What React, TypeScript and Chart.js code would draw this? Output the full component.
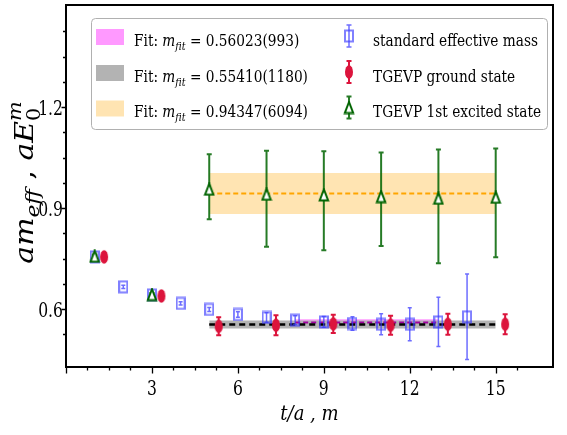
import React, { useEffect, useRef } from "react";
import { Chart, registerables } from "chart.js";
Chart.register(...registerables);

// ---------- data ----------
const X_MIN = 0;
const X_MAX = 17;
const Y_MIN = 0.428;
const Y_MAX = 1.503;

const stdT = [1, 2, 3, 4, 5, 6, 7, 8, 9, 10, 11, 12, 13, 14];
const stdM = [0.755, 0.666, 0.642, 0.617, 0.599, 0.584, 0.575, 0.567, 0.562, 0.557, 0.555, 0.555, 0.562, 0.577];
const stdErr = [0.005, 0.005, 0.005, 0.005, 0.006, 0.008, 0.014, 0.013, 0.016, 0.02, 0.031, 0.049, 0.073, 0.127];

const tgT = [1.33, 3.33, 5.33, 7.33, 9.33, 11.33, 13.33, 15.33];
const tgM = [0.755, 0.639, 0.549, 0.552, 0.556, 0.552, 0.555, 0.555];
const tgErr = [0.004, 0.004, 0.027, 0.03, 0.027, 0.028, 0.031, 0.03];

const exT = [1, 3, 5, 7, 9, 11, 13, 15];
const exM = [0.757, 0.643, 0.956, 0.941, 0.939, 0.934, 0.929, 0.932];
const exErrLo = [0.005, 0.005, 0.089, 0.156, 0.164, 0.147, 0.193, 0.178];
const exErrHi = [0.005, 0.005, 0.104, 0.129, 0.13, 0.131, 0.145, 0.145];

const fitMass = [0.56023, 0.5541, 0.94347];
const fitErr = [0.00993, 0.0118, 0.06094];
const fitFrom = [8, 5, 5];
const fitTo = [13, 15, 15];
const fitLabels = ["0.56023(993)", "0.55410(1180)", "0.94347(6094)"];
const seriesLabels = ["standard effective mass", "TGEVP ground state", "TGEVP 1st excited state"];

const xTickLabels = ["3", "6", "9", "12", "15"];
const yTickLabels = ["0.6", "0.9", "1.2"];

// ---------- styles ----------
const SERIF = "'DejaVu Serif'";
const bandColors = ["rgba(255,0,255,0.4)", "#b3b3b3", "rgba(255,165,0,0.3)"];
const lineColors = ["#a000a0", "#000000", "#ffa500"];
const BLUE_ERR = "rgba(60,60,255,0.75)";
const RED = "#dc143c";
const GREEN = "#006400";

function makeMarker(kind: string): HTMLCanvasElement {
  const c = document.createElement("canvas");
  const g = () => c.getContext("2d") as CanvasRenderingContext2D;
  if (kind === "square") {
    c.width = 10;
    c.height = 14;
    const x = g();
    x.strokeStyle = "rgba(60,60,255,0.65)";
    x.lineWidth = 2;
    x.strokeRect(1, 1.5, 8, 11);
  } else if (kind === "ellipse") {
    c.width = 10;
    c.height = 16;
    const x = g();
    x.fillStyle = RED;
    x.beginPath();
    x.ellipse(5, 8, 4, 6.8, 0, 0, Math.PI * 2);
    x.fill();
  } else {
    c.width = 12;
    c.height = 14;
    const x = g();
    x.fillStyle = "#ffffff";
    x.strokeStyle = GREEN;
    x.lineWidth = 2;
    x.beginPath();
    x.moveTo(6, 1.5);
    x.lineTo(1.8, 12.5);
    x.lineTo(10.2, 12.5);
    x.closePath();
    x.fill();
    x.stroke();
  }
  return c;
}

type Run = { t: string; f: string; dy?: number; stack?: { t: string; f: string; dy: number } };

function runsWidth(ctx: CanvasRenderingContext2D, runs: Run[]) {
  let w = 0;
  for (const r of runs) {
    ctx.font = r.f;
    let a = ctx.measureText(r.t).width;
    if (r.stack) {
      ctx.font = r.stack.f;
      a = Math.max(a, ctx.measureText(r.stack.t).width);
    }
    w += a;
  }
  return w;
}

function drawRuns(ctx: CanvasRenderingContext2D, runs: Run[], x: number, y: number, sx: number, align: string) {
  const w = runsWidth(ctx, runs) * sx;
  const cx = align === "center" ? x - w / 2 : align === "right" ? x - w : x;
  ctx.save();
  ctx.translate(cx, y);
  ctx.scale(sx, 1);
  ctx.fillStyle = "#000";
  ctx.textBaseline = "alphabetic";
  ctx.textAlign = "left";
  let px = 0;
  for (const r of runs) {
    ctx.font = r.f;
    ctx.fillText(r.t, px, r.dy || 0);
    let a = ctx.measureText(r.t).width;
    if (r.stack) {
      ctx.font = r.stack.f;
      ctx.fillText(r.stack.t, px, r.stack.dy);
      a = Math.max(a, ctx.measureText(r.stack.t).width);
    }
    px += a;
  }
  ctx.restore();
}

function errBar(ctx: CanvasRenderingContext2D, x: number, y1: number, y2: number, cap: number) {
  ctx.beginPath();
  ctx.moveTo(x, y1);
  ctx.lineTo(x, y2);
  ctx.moveTo(x - cap, y1);
  ctx.lineTo(x + cap, y1);
  ctx.moveTo(x - cap, y2);
  ctx.lineTo(x + cap, y2);
  ctx.stroke();
}

const errPlugin = {
  id: "errbars",
  beforeDatasetDraw(chart: any, args: any) {
    const ds = chart.data.datasets[args.index];
    if (!ds.errLo) return;
    const ctx = chart.ctx as CanvasRenderingContext2D;
    const xs = chart.scales.x;
    const ys = chart.scales.y;
    ctx.save();
    ctx.strokeStyle = ds.errColor;
    ctx.lineWidth = ds.errWidth;
    ds.data.forEach((p: any, i: number) => {
      const x = xs.getPixelForValue(p.x);
      const y1 = ys.getPixelForValue(p.y - ds.errLo[i]);
      const y2 = ys.getPixelForValue(p.y + ds.errHi[i]);
      errBar(ctx, x, y1, y2, ds.errCap);
    });
    ctx.restore();
  },
};

function makeDecorPlugin(markers: HTMLCanvasElement[]) {
  return {
    id: "decor",
    afterDraw(chart: any) {
      const ctx = chart.ctx as CanvasRenderingContext2D;
      const a = chart.chartArea;
      const xs = chart.scales.x;
      const ys = chart.scales.y;
      ctx.save();
      // frame
      ctx.strokeStyle = "#000";
      ctx.lineWidth = 2;
      ctx.strokeRect(a.left, a.top, a.right - a.left, a.bottom - a.top);
      // ticks
      ctx.lineWidth = 1.3;
      ctx.beginPath();
      for (const t of xs.ticks) {
        const v = t.value;
        if (Math.abs(v / 0.75 - Math.round(v / 0.75)) > 1e-6) continue;
        const major = Math.abs(v / 3 - Math.round(v / 3)) < 1e-6;
        const px = Math.round(xs.getPixelForValue(v)) + 0.5;
        ctx.moveTo(px, a.bottom);
        ctx.lineTo(px, a.bottom + (major ? 6.5 : 3.5));
      }
      for (const t of ys.ticks) {
        const v = t.value;
        if (Math.abs(v / 0.075 - Math.round(v / 0.075)) > 1e-6) continue;
        const major = Math.abs(v / 0.3 - Math.round(v / 0.3)) < 1e-6;
        const py = Math.round(ys.getPixelForValue(v)) + 0.5;
        ctx.moveTo(a.left, py);
        ctx.lineTo(a.left - (major ? 4.5 : 3), py);
      }
      ctx.stroke();
      // tick labels
      for (const lab of xTickLabels) {
        const px = xs.getPixelForValue(Number(lab));
        drawRuns(ctx, [{ t: lab, f: `20px ${SERIF}` }], px, 395, 0.78, "center");
      }
      for (const lab of yTickLabels) {
        const py = ys.getPixelForValue(Number(lab));
        drawRuns(ctx, [{ t: lab, f: `20px ${SERIF}` }], a.left - 3, py + 7.5, 0.78, "right");
      }
      // axis titles
      drawRuns(ctx, [{ t: "t/a , m", f: `italic 20px ${SERIF}` }], (a.left + a.right) / 2, 420, 0.9, "center");
      ctx.save();
      ctx.translate(33, 182.5);
      ctx.rotate(-Math.PI / 2);
      drawRuns(
        ctx,
        [
          { t: "am", f: `italic 26px ${SERIF}` },
          { t: "eff", f: `italic 19px ${SERIF}`, dy: 6 },
          { t: " , ", f: `26px ${SERIF}` },
          { t: "aE", f: `italic 26px ${SERIF}` },
          { t: "m", f: `italic 18px ${SERIF}`, dy: -12, stack: { t: "0", f: `18px ${SERIF}`, dy: 7 } },
        ],
        0,
        0,
        1.15,
        "center"
      );
      ctx.restore();

      // legend
      const bx = 91, by = 18, bw = 456, bh = 111;
      ctx.beginPath();
      ctx.roundRect(bx + 0.5, by + 0.5, bw, bh, 4);
      ctx.fillStyle = "rgba(255,255,255,0.85)";
      ctx.fill();
      ctx.strokeStyle = "#b0b0b0";
      ctx.lineWidth = 1;
      ctx.stroke();
      const bases = [45.5, 81.5, 117];
      const fsz = 16.5;
      for (let i = 0; i < 3; i++) {
        const b = bases[i];
        ctx.fillStyle = bandColors[i];
        ctx.fillRect(96, b - 16.5, 28, 16);
        drawRuns(
          ctx,
          [
            { t: "Fit: ", f: `${fsz}px ${SERIF}` },
            { t: "m", f: `italic ${fsz}px ${SERIF}` },
            { t: "fit", f: `italic ${fsz * 0.7}px ${SERIF}`, dy: 4 },
            { t: " = " + fitLabels[i], f: `${fsz}px ${SERIF}` },
          ],
          134,
          b,
          0.83,
          "left"
        );
        const cy = b - 9.5;
        ctx.lineWidth = i === 0 ? 1.5 : 2;
        ctx.strokeStyle = i === 0 ? BLUE_ERR : i === 1 ? RED : "rgba(0,100,0,0.85)";
        errBar(ctx, 349, cy - 11, cy + 11, 2.5);
        const m = markers[i];
        ctx.drawImage(m, 349 - m.width / 2, cy - m.height / 2);
        drawRuns(ctx, [{ t: seriesLabels[i], f: `${fsz}px ${SERIF}` }], 373, b, 0.83, "left");
      }
      ctx.restore();
    },
  };
}

export default function App() {
  const ref = useRef<HTMLCanvasElement | null>(null);
  useEffect(() => {
    document.body.style.margin = "0";
    const canvas = ref.current;
    if (!canvas) return;
    const markers = [makeMarker("square"), makeMarker("ellipse"), makeMarker("triangle")];

    const bandSets: any[] = [];
    const lineSets: any[] = [];
    for (let i = 0; i < 3; i++) {
      const lo = fitMass[i] - fitErr[i];
      const hi = fitMass[i] + fitErr[i];
      const ord = 30 - i;
      bandSets.push({
        type: "line",
        data: [{ x: fitFrom[i], y: lo }, { x: fitTo[i], y: lo }],
        borderWidth: 0,
        borderColor: "rgba(0,0,0,0)",
        pointRadius: 0,
        fill: false,
        order: ord,
      });
      bandSets.push({
        type: "line",
        data: [{ x: fitFrom[i], y: hi }, { x: fitTo[i], y: hi }],
        borderWidth: 0,
        borderColor: "rgba(0,0,0,0)",
        backgroundColor: bandColors[i],
        pointRadius: 0,
        fill: "-1",
        order: ord,
      });
      lineSets.push({
        type: "line",
        data: [{ x: fitFrom[i], y: fitMass[i] }, { x: fitTo[i], y: fitMass[i] }],
        borderColor: lineColors[i],
        borderWidth: i === 1 ? 2.5 : 2,
        borderDash: i === 1 ? [6, 4] : [5, 3],
        pointRadius: 0,
        fill: false,
        order: 15 - i,
      });
    }

    const chart = new Chart(canvas, {
      type: "scatter",
      data: {
        datasets: [
          ...bandSets,
          ...lineSets,
          {
            label: seriesLabels[0],
            data: stdT.map((t, i) => ({ x: t, y: stdM[i] })),
            pointStyle: markers[0],
            pointRadius: 4,
            errLo: stdErr,
            errHi: stdErr,
            errColor: BLUE_ERR,
            errWidth: 1.5,
            errCap: 2,
            order: 3,
          },
          {
            label: seriesLabels[1],
            data: tgT.map((t, i) => ({ x: t, y: tgM[i] })),
            pointStyle: markers[1],
            pointRadius: 4,
            errLo: tgErr,
            errHi: tgErr,
            errColor: RED,
            errWidth: 2,
            errCap: 2.5,
            order: 2,
          },
          {
            label: seriesLabels[2],
            data: exT.map((t, i) => ({ x: t, y: exM[i] })),
            pointStyle: markers[2],
            pointRadius: 4,
            errLo: exErrLo,
            errHi: exErrHi,
            errColor: "rgba(0,100,0,0.85)",
            errWidth: 2,
            errCap: 2.5,
            order: 1,
          },
        ] as any,
      },
      options: {
        responsive: false,
        animation: false,
        devicePixelRatio: 1,
        layout: { padding: { left: 0, top: 5, right: 14, bottom: 0 } },
        plugins: { legend: { display: false }, tooltip: { enabled: false } },
        scales: {
          x: {
            type: "linear",
            min: X_MIN,
            max: X_MAX,
            ticks: { display: false, stepSize: 0.75 },
            grid: { display: false },
            border: { display: false },
            afterFit: (s: any) => {
              s.height = 68;
            },
          },
          y: {
            type: "linear",
            min: Y_MIN,
            max: Y_MAX,
            ticks: { display: false, stepSize: 0.075 },
            grid: { display: false },
            border: { display: false },
            afterFit: (s: any) => {
              s.width = 66;
            },
          },
        },
      } as any,
      plugins: [errPlugin, makeDecorPlugin(markers)] as any,
    });
    return () => chart.destroy();
  }, []);
  return (
    <div style={{ position: "fixed", left: 0, top: 0, width: 567, height: 435 }}>
      <canvas ref={ref} width={567} height={435} />
    </div>
  );
}
